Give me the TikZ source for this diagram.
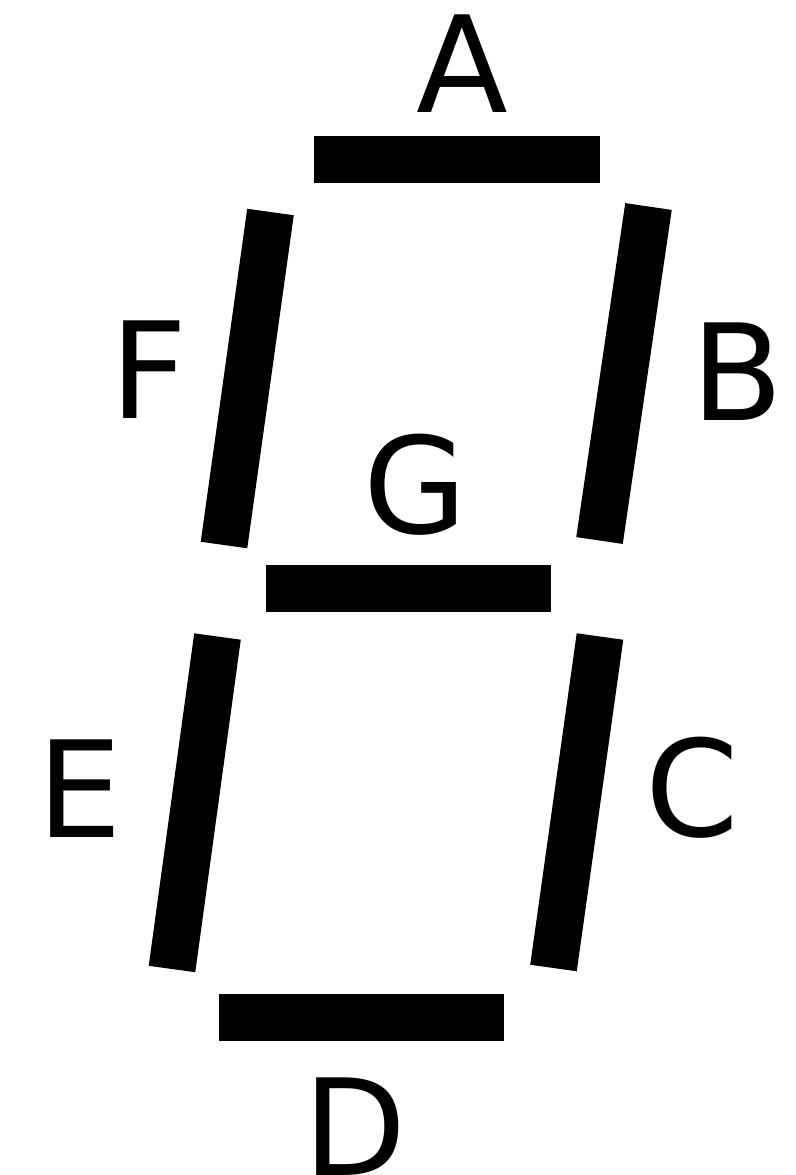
\documentclass[tikz,border=0pt]{standalone}
\usepackage{fontspec}
\setmainfont{DejaVu Sans}
\begin{document}
\begin{tikzpicture}[x=0.5pt,y=-0.5pt,
  seg/.style={line width=23.5pt,line cap=butt,black},
  lbl/.style={anchor=base,inner sep=0pt,font=\fontsize{67}{67}\selectfont}]
\useasboundingbox (0,0) rectangle (796,1175);
% horizontal segments
\draw[seg] (314,159.5) -- (600,159.5);
\draw[seg] (266,588.5) -- (551,588.5);
\draw[seg] (219,1017.5) -- (504,1017.5);
% vertical segments
\draw[seg] (270.5,212) -- (224,545);
\draw[seg] (648.5,206.5) -- (599.5,540.5);
\draw[seg] (217.5,636.5) -- (172,969);
\draw[seg] (600,636.5) -- (553.5,968);
% labels
\node[lbl] (A) at (462,112) {A};
\node[lbl] (F) at (149,418) {F};
\node[lbl] (B) at (737,420) {B};
\node[lbl] (G) at (415,533) {G};
\node[lbl] (E) at (80,837) {E};
\node[lbl] (C) at (692,836) {C};
\node[lbl] (D) at (355,1175) {D};
\end{tikzpicture}
\end{document}
